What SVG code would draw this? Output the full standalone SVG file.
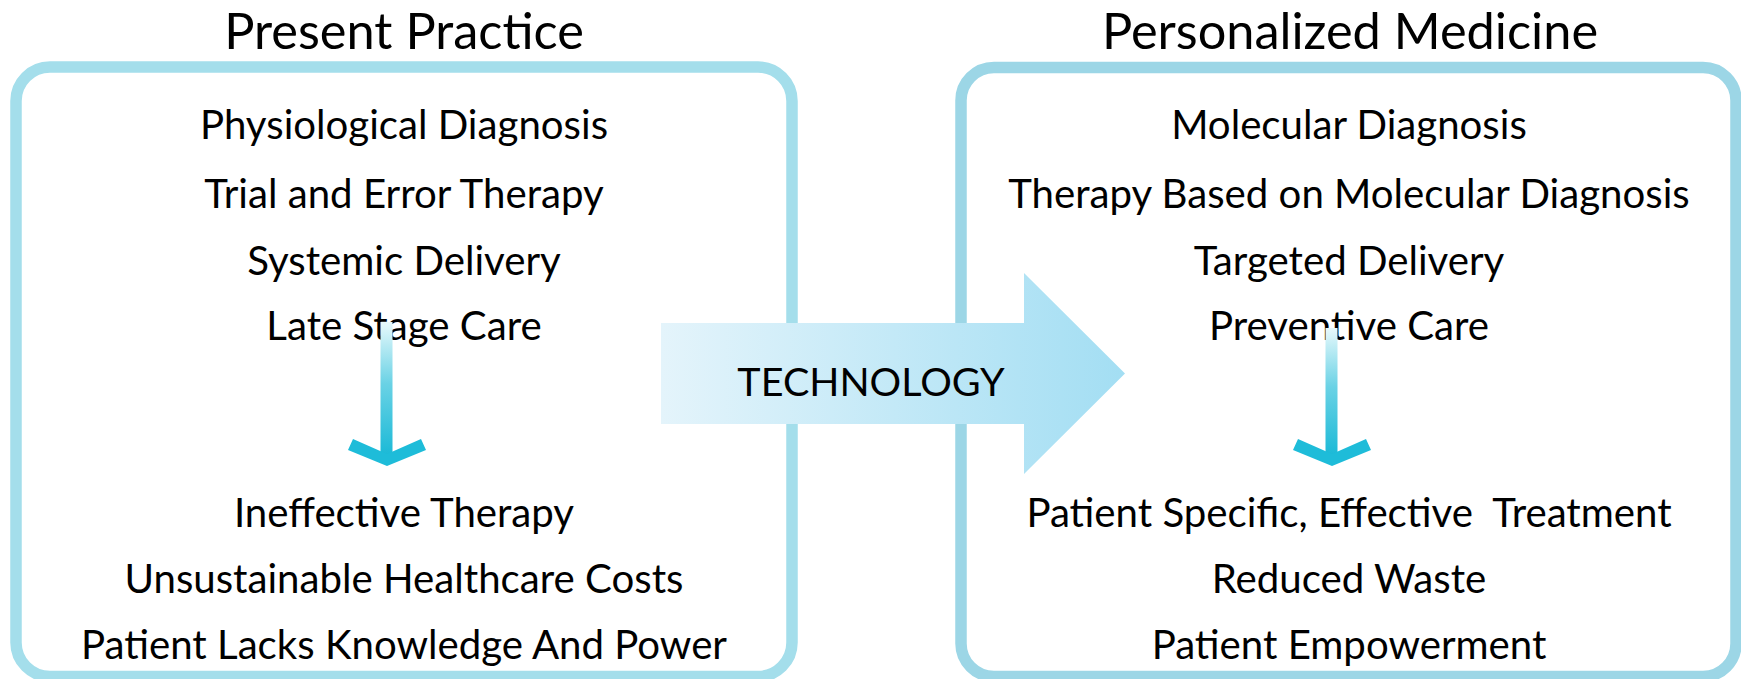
<svg xmlns="http://www.w3.org/2000/svg" width="1741" height="679" viewBox="0 0 1741 679">
<style>
.t{font-family:Lato,"Liberation Sans",sans-serif;fill:#000;text-anchor:middle}
.item{font-size:40.2px}
.title{font-size:50.5px}
.box{fill:#fff;stroke-width:11.5}
.chev{fill:#1ebcd9}
</style>
<defs>
<linearGradient id="techGrad" x1="661" y1="0" x2="1125" y2="0" gradientUnits="userSpaceOnUse">
<stop offset="0" stop-color="#e4f4fb"/>
<stop offset="1" stop-color="#a3def3"/>
</linearGradient>
<linearGradient id="shaftGrad" x1="0" y1="0" x2="0" y2="1">
<stop offset="0" stop-color="#e8f9fc"/>
<stop offset="0.45" stop-color="#6ad2e5"/>
<stop offset="1" stop-color="#17b8d6"/>
</linearGradient>
</defs>
<rect width="1741" height="679" fill="#fff"/>

<g id="present-practice">
<rect class="box" x="16" y="67" width="776" height="609.5" rx="34" stroke="#a4deeb"/>
<text class="t title" x="404" y="49">Present Practice</text>
<text class="t item" x="404" y="139">Physiological Diagnosis</text>
<text class="t item" x="404" y="208">Trial and Error Therapy</text>
<text class="t item" x="404" y="275">Systemic Delivery</text>
<text class="t item" x="404" y="340">Late Stage Care</text>
<text class="t item" x="404" y="527">Ineffective Therapy</text>
<text class="t item" x="404" y="593">Unsustainable Healthcare Costs</text>
<text class="t item" x="404" y="659">Patient Lacks Knowledge And Power</text>
</g>

<g id="personalized-medicine">
<rect class="box" x="961" y="67.5" width="775" height="609" rx="33" stroke="#9cd6e6"/>
<text class="t title" x="1350" y="49">Personalized Medicine</text>
<text class="t item" x="1349" y="139">Molecular Diagnosis</text>
<text class="t item" x="1349" y="208">Therapy Based on Molecular Diagnosis</text>
<text class="t item" x="1349" y="275">Targeted Delivery</text>
<text class="t item" x="1349" y="340">Preventive Care</text>
<text class="t item" x="1349" y="527" style="white-space:pre">Patient Specific, Effective  Treatment</text>
<text class="t item" x="1349" y="593">Reduced Waste</text>
<text class="t item" x="1349" y="659">Patient Empowerment</text>
</g>

<g id="connectors">
<g id="arrow-left">
<rect x="380.5" y="322" width="12" height="137" fill="url(#shaftGrad)"/>
<polygon class="chev" points="348,450 387,466 426,450 421,439 387,454 353,439"/>
</g>
<g id="arrow-right">
<rect x="1325.5" y="328" width="12" height="131" fill="url(#shaftGrad)"/>
<polygon class="chev" points="1293,450 1332,466 1371,450 1366,439 1332,454 1298,439"/>
</g>
</g>

<g id="technology">
<polygon points="661,323 1024,323 1024,273 1125,373.5 1024,474 1024,424 661,424" fill="url(#techGrad)"/>
<text class="t" x="871" y="396" font-size="39.5">TECHNOLOGY</text>
</g>
</svg>
